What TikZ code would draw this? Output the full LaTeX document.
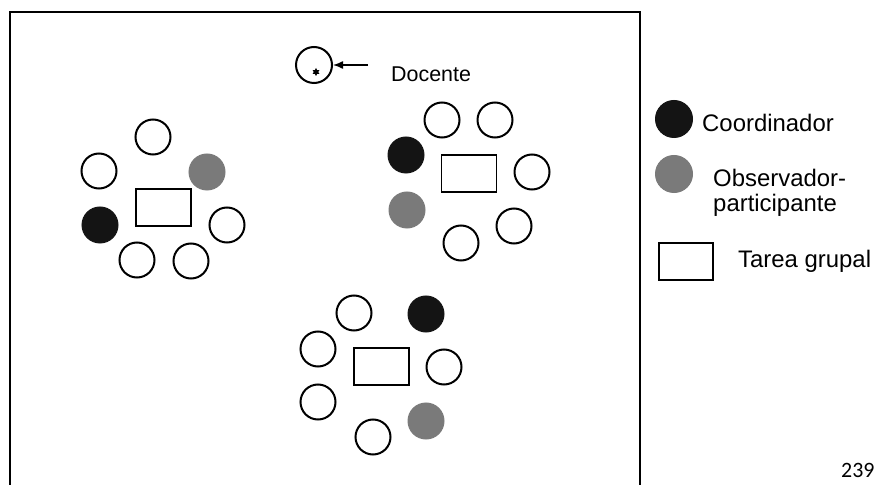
\documentclass[tikz,border=0pt]{standalone}
\usepackage{fontspec}
\setmainfont{Liberation Sans}
\newfontfamily\pagefont{Carlito}
\usetikzlibrary{shapes.geometric,arrows.meta}
\definecolor{obsgray}{RGB}{122,122,122}
\begin{document}
\begin{tikzpicture}[x=1bp,y=-1bp,
  person/.style={circle,draw=black,line width=2bp,minimum size=35bp,inner sep=0pt,fill=white},
  coordp/.style={circle,fill=black!92,draw=black!92,line width=1bp,minimum size=36bp,inner sep=0pt},
  obsp/.style={circle,fill=obsgray,draw=obsgray,line width=1bp,minimum size=36bp,inner sep=0pt},
  task/.style={rectangle,draw=black,line width=1.6bp,minimum width=55bp,minimum height=37bp,inner sep=0pt,fill=white},
  legtext/.style={anchor=base west,font=\fontsize{24}{25}\selectfont,inner sep=0pt,align=left},
]
\useasboundingbox (0,0) rectangle (876,485);
% frame
\draw[line width=1.5bp] (10,485) -- (10,12) -- (640,12) -- (640,485);

% Docente
\node[person,minimum size=36bp] (doc) at (314,65) {};
\node[star,star points=6,star point ratio=1.8,fill=black,minimum size=8bp,inner sep=0pt] (docstar) at (316,72) {};
\coordinate (arrtail) at (368,65);
\draw[-{Latex[length=10bp,width=8bp]},line width=1.4bp] (arrtail) -- (doc.east);
\node[anchor=base west,font=\fontsize{21.5}{22}\selectfont,inner sep=0pt] (doctext) at (391,82) {Docente};

% Group 1 (left)
\node[task] (t1) at (163.5,207.5) {};
\node[person] (a1) at (153,137) {};
\node[person] (a2) at (99,171) {};
\node[obsp]   (a3) at (207,172) {};
\node[coordp] (a4) at (100,225) {};
\node[person] (a5) at (227,225) {};
\node[person] (a6) at (137,260) {};
\node[person] (a7) at (191,261) {};

% Group 2 (right)
\node[task] (t2) at (469,173.5) {};
\node[person] (b1) at (442,120) {};
\node[person] (b2) at (495,120) {};
\node[coordp] (b3) at (406,155) {};
\node[person] (b4) at (532,172) {};
\node[obsp]   (b5) at (407,210) {};
\node[person] (b6) at (514,226) {};
\node[person] (b7) at (461,243) {};

% Group 3 (bottom)
\node[task] (t3) at (381.5,366.5) {};
\node[person] (c1) at (354,313) {};
\node[coordp] (c2) at (426,314) {};
\node[person] (c3) at (318,349) {};
\node[person] (c4) at (444,367) {};
\node[person] (c5) at (318,402) {};
\node[obsp]   (c6) at (426,421) {};
\node[person] (c7) at (373,437) {};

% Legend
\node[coordp,minimum size=37bp] (lc) at (674,119) {};
\node[legtext] (lct) at (702,132) {Coordinador};
\node[obsp,minimum size=37bp] (lo) at (674,174) {};
\node[legtext] (lot) at (713,187) {Observador-};
\node[legtext] (lot2) at (713,212) {participante};
\node[task,minimum width=54bp] (lt) at (686,261.5) {};
\node[legtext] (ltt) at (738,268) {Tarea grupal};

% page number
\node[anchor=base west,font=\pagefont\fontsize{22}{23}\selectfont,inner sep=0pt] (pg) at (841,477) {239};
\end{tikzpicture}
\end{document}
